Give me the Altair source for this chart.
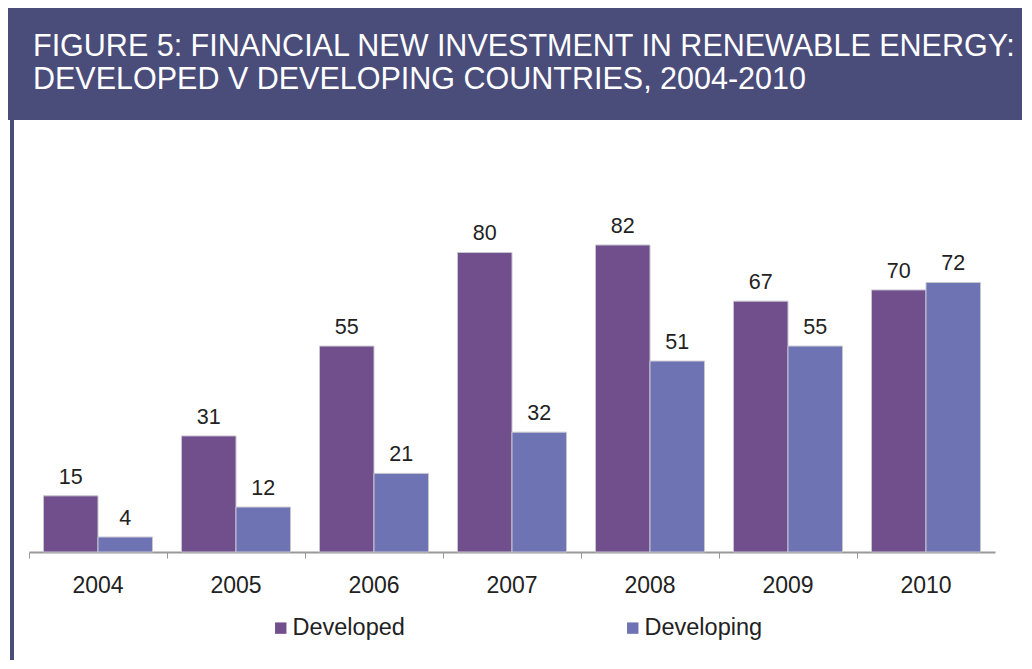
import altair as alt
import pandas as pd

years = ["2004", "2005", "2006", "2007", "2008", "2009", "2010"]
developed = [15, 31, 55, 80, 82, 67, 70]
developing = [4, 12, 21, 32, 51, 55, 72]
series = ["Developed", "Developing"]
colors = ["#714f8d", "#6d73b3"]
title_lines = [
    "FIGURE 5: FINANCIAL NEW INVESTMENT IN RENEWABLE ENERGY:",
    "DEVELOPED V DEVELOPING COUNTRIES, 2004-2010",
]

rows = []
for y, a, b in zip(years, developed, developing):
    rows.append({"year": y, "series": series[0], "value": a})
    rows.append({"year": y, "series": series[1], "value": b})
df = pd.DataFrame(rows)

W = 966
H = 544
BANNER = "#4a4c7a"
FONT = "Liberation Sans"

x_enc = alt.X(
    "year:O",
    sort=years,
    scale=alt.Scale(paddingInner=0, paddingOuter=0),
    axis=alt.Axis(
        title=None, labelAngle=0, labelFontSize=23, labelFont=FONT,
        labelColor="#222222", tickSize=6, tickColor="#999999",
        domainColor="#999999", domainWidth=2, labelPadding=16,
        bandPosition=0, grid=False,
    ),
)
xoff = alt.XOffset("series:N", sort=series,
                   scale=alt.Scale(paddingInner=0, paddingOuter=0.265))
y_enc = alt.Y("value:Q", scale=alt.Scale(domain=[0, 145.3], nice=False), axis=None)

base = alt.Chart(df)

bars = base.mark_bar(stroke="#c8c8d0", strokeWidth=1).encode(
    x=x_enc,
    xOffset=xoff,
    y=y_enc,
    color=alt.Color(
        "series:N",
        scale=alt.Scale(domain=series, range=colors),
        legend=alt.Legend(
            title=None, orient="none", direction="horizontal",
            legendX=240, legendY=608, symbolType="square", symbolSize=130,
            symbolStrokeWidth=0, labelFontSize=23.5, labelFont=FONT,
            labelColor="#222222", columnPadding=216, labelOffset=0,
        ),
    ),
)

labels = base.mark_text(baseline="bottom", dy=-7, fontSize=21.5, font=FONT,
                        color="#222222").encode(
    x=x_enc, xOffset=xoff, y=y_enc, text="value:Q"
)

hdr = pd.DataFrame({"t": [title_lines[0]]})
banner = alt.Chart(hdr).mark_rect(color=BANNER).encode(
    x=alt.value(-21), x2=alt.value(W + 27), y=alt.value(0), y2=alt.value(112)
)
border = alt.Chart(hdr).mark_rule(color=BANNER, strokeWidth=4).encode(
    x=alt.value(-17), y=alt.value(112), y2=alt.value(652)
)
t1 = alt.Chart(hdr).mark_text(align="left", baseline="middle", fontSize=30.5,
                               font=FONT, color="white").encode(
    x=alt.value(4), y=alt.value(39), text=alt.value(title_lines[0])
)
t2 = alt.Chart(hdr).mark_text(align="left", baseline="middle", fontSize=30.5,
                               font=FONT, color="white").encode(
    x=alt.value(4), y=alt.value(72), text=alt.value(title_lines[1])
)

chart = alt.layer(banner, border, t1, t2, bars, labels).properties(
    width=W, height=H, padding=0
).configure_view(stroke=None)

chart.save("out.html", embed_options={"renderer": "svg", "actions": False})
